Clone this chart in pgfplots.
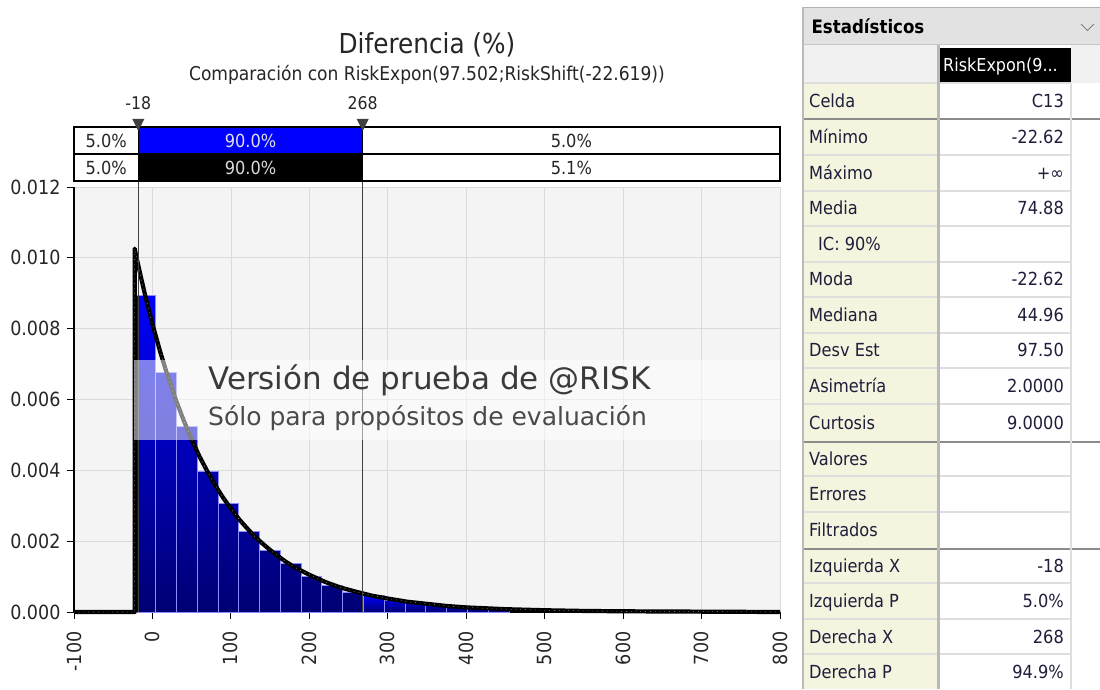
\documentclass[border=0pt]{standalone}
\usepackage{fontspec}
\setmainfont{DejaVu Sans Condensed}
\newfontfamily\wmfont{DejaVu Sans}
\usepackage{pgfplots}
\usepackage{pgfplotstable}
\pgfplotsset{compat=1.18}
\usetikzlibrary{patterns}

\definecolor{bgplot}{HTML}{F4F4F4}
\definecolor{gridc}{HTML}{DADADA}
\definecolor{barTop}{RGB}{0,0,250}
\definecolor{barBot}{RGB}{0,0,115}
\definecolor{markc}{HTML}{404040}
\definecolor{wmA}{HTML}{3A3A3A}
\definecolor{wmB}{HTML}{4A4A4A}
\definecolor{beige}{HTML}{F5F4DE}
\definecolor{hdrgray}{HTML}{E2E2E2}
\definecolor{colhdr}{HTML}{F1F1F1}
\definecolor{thinl}{HTML}{DEDEDE}
\definecolor{thickl}{HTML}{8C8C8C}
\definecolor{txt}{HTML}{1E1E3C}

\newcommand\tfont{\fontsize{18}{20}\selectfont}

\pgfplotstableread{
x y
-22.62 0.00895
3.88 0.00677
30.38 0.00523
56.88 0.00396
83.38 0.00307
109.88 0.00227
136.38 0.00175
162.88 0.00137
189.38 0.00100
215.88 0.00076
242.38 0.00057
268.88 0.00057
}\histA

\pgfplotstableread{
x y
268.88 0.00046
295.38 0.00034
321.88 0.00026
348.38 0.00020
374.88 0.00015
401.38 0.00012
427.88 0.00009
454.38 0.00009
}\histB

\pgfplotstableread{
x y
-100 0
-22.62 0
-22.62 0.01026
-20 0.00998
-15 0.00949
-10 0.00901
-5 0.00856
0 0.00813
10 0.00734
20 0.00662
30 0.00598
40 0.00540
50 0.00487
60 0.00439
70 0.00397
80 0.00358
90 0.00323
100 0.00292
110 0.00263
120 0.00238
130 0.00214
140 0.00194
150 0.00175
160 0.00158
170 0.00142
180 0.00128
200 0.00105
220 0.00085
240 0.00069
260 0.00057
280 0.00046
300 0.00038
325 0.00029
350 0.00023
375 0.00017
400 0.00013
450 0.00008
500 0.00005
550 0.00003
600 0.00002
700 0.00001
800 0.00000
}\fit

\begin{document}
\begin{tikzpicture}
\useasboundingbox (0pt,0pt) rectangle (1100pt,689pt);
\fill[white] (0pt,0pt) rectangle (1100pt,689pt);
\begin{axis}[
  at={(74pt,77pt)}, anchor=south west, scale only axis,
  width=706pt, height=425pt,
  xmin=-100, xmax=800, ymin=0, ymax=0.012,
  axis background/.style={fill=bgplot},
  axis x line*=bottom, axis y line*=left,
  axis line style={-, black, line width=1.3pt},
  xtick={-100,0,100,200,300,400,500,600,700,800},
  ytick={0,0.002,0.004,0.006,0.008,0.010,0.012},
  tick align=outside, major tick length=7pt,
  tick style={black, line width=0.9pt},
  grid=major, grid style={gridc, line width=0.7pt},
  scaled y ticks=false,
  /pgf/number format/assume math mode=true,
  yticklabel style={font=\fontsize{19.5}{19.5}\selectfont, text=black!85, xshift=-3pt, /pgf/number format/fixed, /pgf/number format/fixed zerofill, /pgf/number format/precision=3},
  xticklabel style={font=\fontsize{19.5}{19.5}\selectfont, text=black!85, rotate=90, anchor=east, xshift=-9pt},
  clip=false,
]
\addplot[ybar interval, draw=blue!45!white, line width=0.6pt, top color=barTop, bottom color=barBot] table {\histA};
\addplot[ybar interval, draw=blue!45!white, line width=0.6pt, top color=barTop, bottom color=barBot, postaction={pattern=north east lines, pattern color=blue!35!white}] table {\histB};
\addplot[black, line width=4.2pt, line join=round] table {\fit};
\addplot[gray!70!white, line width=0.5pt, dash pattern=on 0.8pt off 4pt] table {\fit};
\addplot[markc, line width=0.9pt] coordinates {(-18,0) (-18,0.013694)};
\addplot[markc, line width=0.9pt] coordinates {(268,0) (268,0.013694)};

% watermark band
\fill[white, opacity=0.5] (axis cs:-23.5,0.00486) rectangle (axis cs:800,0.00712);
\node[anchor=west, text=wmA, font=\wmfont\fontsize{31}{31}\selectfont, inner sep=0pt] at (axis cs:70.8,0.00655) {Versión de prueba de @RISK};
\node[anchor=west, text=wmB, font=\wmfont\fontsize{25}{25}\selectfont, inner sep=0pt] at (axis cs:70.8,0.00548) {Sólo para propósitos de evaluación};

% top probability bars
\fill[white] (axis cs:-100,0.012169) rectangle (axis cs:800,0.013694);
\fill[blue] (axis cs:-18,0.012932) rectangle (axis cs:268,0.013694);
\fill[black] (axis cs:-18,0.012169) rectangle (axis cs:268,0.012932);
\draw[black, line width=1.5pt] (axis cs:-100,0.012169) rectangle (axis cs:800,0.013694);
\draw[black, line width=1.5pt] (axis cs:-100,0.012932) -- (axis cs:800,0.012932);
\draw[black, line width=1.2pt] (axis cs:-18,0.012169) -- (axis cs:-18,0.013694);
\draw[black, line width=1.2pt] (axis cs:268,0.012169) -- (axis cs:268,0.013694);
\node[font=\fontsize{18}{18}\selectfont, text=black!85] at (axis cs:-59,0.013313) {5.0\%};
\node[font=\fontsize{18}{18}\selectfont, text=white!88!black] at (axis cs:125,0.013313) {90.0\%};
\node[font=\fontsize{18}{18}\selectfont, text=black!85] at (axis cs:534,0.013313) {5.0\%};
\node[font=\fontsize{18}{18}\selectfont, text=black!85] at (axis cs:-59,0.012551) {5.0\%};
\node[font=\fontsize{18}{18}\selectfont, text=white!85!black] at (axis cs:125,0.012551) {90.0\%};
\node[font=\fontsize{18}{18}\selectfont, text=black!85] at (axis cs:534,0.012551) {5.1\%};
\fill[markc] (axis cs:-25.65,0.01392) -- (axis cs:-10.35,0.01392) -- (axis cs:-18,0.01358) -- cycle;
\fill[markc] (axis cs:260.35,0.01392) -- (axis cs:275.65,0.01392) -- (axis cs:268,0.01358) -- cycle;
\node[font=\fontsize{17.5}{17.5}\selectfont, text=black!85] at (axis cs:-18,0.01437) {-18};
\node[font=\fontsize{17.5}{17.5}\selectfont, text=black!85] at (axis cs:268,0.01437) {268};
\end{axis}

\begin{scope}[x=1pt,y=1pt]
\node[font=\fontsize{27.5}{27.5}\selectfont, text=black!85] at (427,644) {Diferencia (\%)};
\node[font=\fontsize{19}{19}\selectfont, text=black!85] at (427,614) {Comparación con RiskExpon(97.502;RiskShift(-22.619))};

% statistics panel
\fill[hdrgray] (803,644) rectangle (1100,681);
\draw[gray!60, line width=1pt] (803,681.5) -- (1100,681.5);
\fill[colhdr] (803,606) rectangle (937,644);
\fill[colhdr] (1071,606) rectangle (1100,644);
\fill[black] (940,606) rectangle (1071,641);
\fill[beige] (803,0) rectangle (937,606);
\foreach \yy in {83,155,191,226,262,297,333,368,404,476,512,583,619,654} {
  \draw[thinl, line width=2pt] (803,689-\yy) -- (1071,689-\yy);
}
\foreach \yy in {119.5,441.5,548.5} {
  \draw[thickl, line width=2pt] (803,689-\yy) -- (1100,689-\yy);
}
\draw[gray!55, line width=3pt] (938.5,0) -- (938.5,644);
\draw[thinl, line width=1.5pt] (1071,0) -- (1071,606);
\draw[gray!55, line width=1.5pt] (803,0) -- (803,681.5);
\draw[gray!45, line width=1pt] (803,644) -- (1100,644);

\node[anchor=base west, font=\bfseries\fontsize{18.5}{20}\selectfont, text=black] at (808,655.5) {Estadísticos};
\draw[gray, line width=0.8pt] (1081,665) -- (1087.5,658.5) -- (1094,665);
\node[anchor=base west, font=\fontsize{17.8}{20}\selectfont, text=white, inner sep=0pt] at (943,617) {RiskExpon(9...};

\foreach \yc/\lab/\val in {101/Celda/C13, 137/Mínimo/-22.62, 173/Máximo/+∞, 208.5/Media/74.88, 279.5/Moda/-22.62, 315/Mediana/44.96, 350.5/Desv Est/97.50, 386/Asimetría/2.0000, 422.5/Curtosis/9.0000, 458.5/Valores/, 494/Errores/, 530/Filtrados/, 565.5/Izquierda X/-18, 601/Izquierda P/5.0\%, 636.5/Derecha X/268, 671.5/Derecha P/94.9\%} {
  \node[anchor=base west, text=txt, font=\tfont, inner sep=0pt] at (809,689-\yc-6.5) {\lab};
  \node[anchor=base east, text=txt, font=\tfont, inner sep=0pt] at (1064,689-\yc-6.5) {\val};
}
\node[anchor=base west, text=txt, font=\tfont, inner sep=0pt] at (818,689-244-6.5) {IC: 90\%};
\end{scope}
\end{tikzpicture}
\end{document}
